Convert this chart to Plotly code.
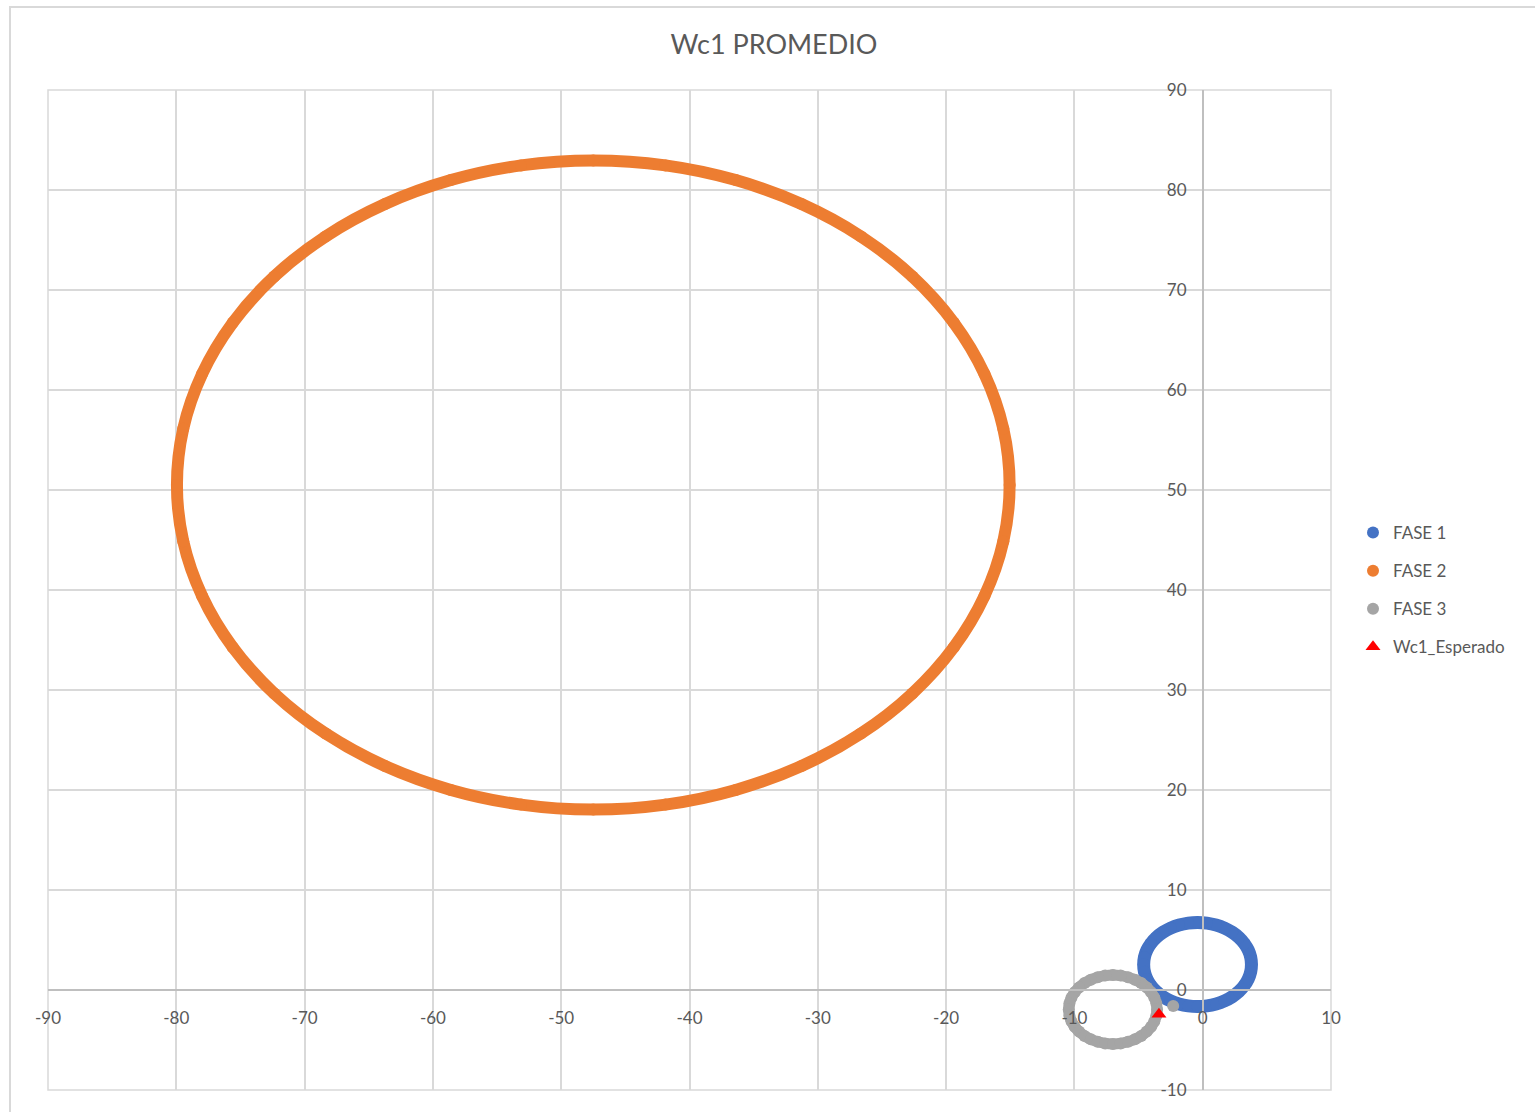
import plotly.graph_objects as go

# ---- data -------------------------------------------------------------
# FASE 1 ring (x, y)
fase1_x = [3.80, 3.74, 3.55, 3.24, 2.82, 2.30, 1.70, 1.04, 0.33, -0.40,
           -1.13, -1.84, -2.50, -3.10, -3.62, -4.04, -4.35, -4.54, -4.60,
           -4.54, -4.35, -4.04, -3.62, -3.10, -2.50, -1.84, -1.13, -0.40,
           0.33, 1.04, 1.70, 2.30, 2.82, 3.24, 3.55, 3.74]
fase1_y = [2.55, 3.28, 3.99, 4.65, 5.25, 5.77, 6.19, 6.50, 6.69, 6.75,
           6.69, 6.50, 6.19, 5.77, 5.25, 4.65, 3.99, 3.28, 2.55,
           1.82, 1.11, 0.45, -0.15, -0.67, -1.09, -1.40, -1.59, -1.65,
           -1.59, -1.40, -1.09, -0.67, -0.15, 0.45, 1.11, 1.82]

# FASE 2 ring (x, y)
fase2_x = [-15.05, -15.54, -17.01, -19.40, -22.64, -26.64, -31.27, -36.40,
           -41.87, -47.50, -53.13, -58.60, -63.73, -68.36, -72.36, -75.60,
           -77.99, -79.46, -79.95, -79.46, -77.99, -75.60, -72.36, -68.36,
           -63.73, -58.60, -53.13, -47.50, -41.87, -36.40, -31.27, -26.64,
           -22.64, -19.40, -17.01, -15.54]
fase2_y = [50.50, 56.13, 61.60, 66.73, 71.36, 75.36, 78.60, 80.99,
           82.46, 82.95, 82.46, 80.99, 78.60, 75.36, 71.36, 66.73,
           61.60, 56.13, 50.50, 44.87, 39.40, 34.27, 29.64, 25.64,
           22.40, 20.01, 18.54, 18.05, 18.54, 20.01, 22.40, 25.64,
           29.64, 34.27, 39.40, 44.87]

# FASE 3 ring (x, y) plus one isolated sample
fase3_x = [-3.56, -3.61, -3.77, -4.02, -4.36, -4.79, -5.28, -5.82, -6.40,
           -7.00, -7.60, -8.18, -8.72, -9.21, -9.64, -9.98, -10.23, -10.39,
           -10.44, -10.39, -10.23, -9.98, -9.64, -9.21, -8.72, -8.18, -7.60,
           -7.00, -6.40, -5.82, -5.28, -4.79, -4.36, -4.02, -3.77, -3.61]
fase3_y = [-1.95, -1.35, -0.77, -0.23, 0.26, 0.69, 1.03, 1.28, 1.44,
           1.49, 1.44, 1.28, 1.03, 0.69, 0.26, -0.23, -0.77, -1.35,
           -1.95, -2.55, -3.13, -3.67, -4.16, -4.59, -4.93, -5.18, -5.34,
           -5.39, -5.34, -5.18, -4.93, -4.59, -4.16, -3.67, -3.13, -2.55]
fase3_extra_x = [-2.30]
fase3_extra_y = [-1.60]

# expected point
esperado_x = [-3.41]
esperado_y = [-2.43]

# axis ticks (plain hyphen minus, as in the workbook)
x_tick_vals = [-90, -80, -70, -60, -50, -40, -30, -20, -10, 0, 10]
x_tick_text = ["-90", "-80", "-70", "-60", "-50", "-40", "-30", "-20", "-10", "0", "10"]
y_tick_vals = [-10, 0, 10, 20, 30, 40, 50, 60, 70, 80, 90]
y_tick_text = ["-10", "0", "10", "20", "30", "40", "50", "60", "70", "80", "90"]

series = [
    ("FASE 1", fase1_x, fase1_y, [], [], "#4472C4", 13),
    ("FASE 2", fase2_x, fase2_y, [], [], "#ED7D31", 12),
    ("FASE 3", fase3_x, fase3_y, fase3_extra_x, fase3_extra_y, "#A5A5A5", 11),
]

GRID = "#D9D9D9"
AXIS = "#BFBFBF"
TEXT = "#595959"
FONT = "Lato, 'Open Sans', sans-serif"

fig = go.Figure()

for name, xs, ys, ex, ey, color, w in series:
    # dense ring drawn as a smooth closed band through the samples
    fig.add_trace(go.Scatter(
        x=xs + xs[:1], y=ys + ys[:1], mode="lines",
        line=dict(color=color, width=w, shape="spline", smoothing=1.0),
        legendgroup=name, showlegend=False, hoverinfo="skip"))
    # the samples themselves (legend entry)
    fig.add_trace(go.Scatter(
        x=xs + ex, y=ys + ey, mode="markers", name=name,
        marker=dict(color=color, size=12, symbol="circle", line=dict(width=0)),
        legendgroup=name))

fig.add_trace(go.Scatter(
    x=esperado_x, y=esperado_y, mode="markers", name="Wc1_Esperado",
    marker=dict(color="#FF0000", size=13, symbol="triangle-up", line=dict(width=0)),
    legendgroup="Wc1_Esperado"))

axis_common = dict(
    showgrid=True, gridcolor=GRID, gridwidth=1.5,
    zeroline=False, showline=True, linecolor=AXIS, linewidth=1.5,
    ticks="", tickfont=dict(family=FONT, size=17, color=TEXT),
    anchor="free", tickmode="array",
)

fig.update_xaxes(range=[-90, 10], position=0.1, tickvals=x_tick_vals,
                 ticktext=x_tick_text, ticklabelstandoff=13, **axis_common)
fig.update_yaxes(range=[-10, 90], position=0.9, tickvals=y_tick_vals,
                 ticktext=y_tick_text, ticklabelstandoff=12, **axis_common)

# plot-area frame and outer chart frame
fig.add_shape(type="rect", xref="x domain", yref="y domain",
              x0=0, x1=1, y0=0, y1=1, line=dict(color=GRID, width=1.5),
              layer="below")
fig.add_shape(type="rect", xref="paper", yref="paper",
              x0=(10 - 48) / 1283, x1=(1560 - 48) / 1283,
              y0=(1090 - 1130) / 1000, y1=(1090 - 7) / 1000,
              line=dict(color=GRID, width=2), layer="below")

fig.update_layout(
    width=1535, height=1112,
    margin=dict(l=48, r=204, t=90, b=22),
    paper_bgcolor="white", plot_bgcolor="white",
    title=dict(text="Wc1 PROMEDIO", x=774 / 1535, xref="container",
               xanchor="center", y=1 - 45 / 1112, yref="container",
               yanchor="middle",
               font=dict(family=FONT, size=27, color=TEXT)),
    legend=dict(x=(1353 - 48) / 1283, xanchor="left", y=0.5, yanchor="middle",
                traceorder="grouped", tracegroupgap=13,
                font=dict(family=FONT, size=17, color=TEXT),
                bgcolor="rgba(0,0,0,0)"),
    showlegend=True,
)

fig.write_html("out.html")
